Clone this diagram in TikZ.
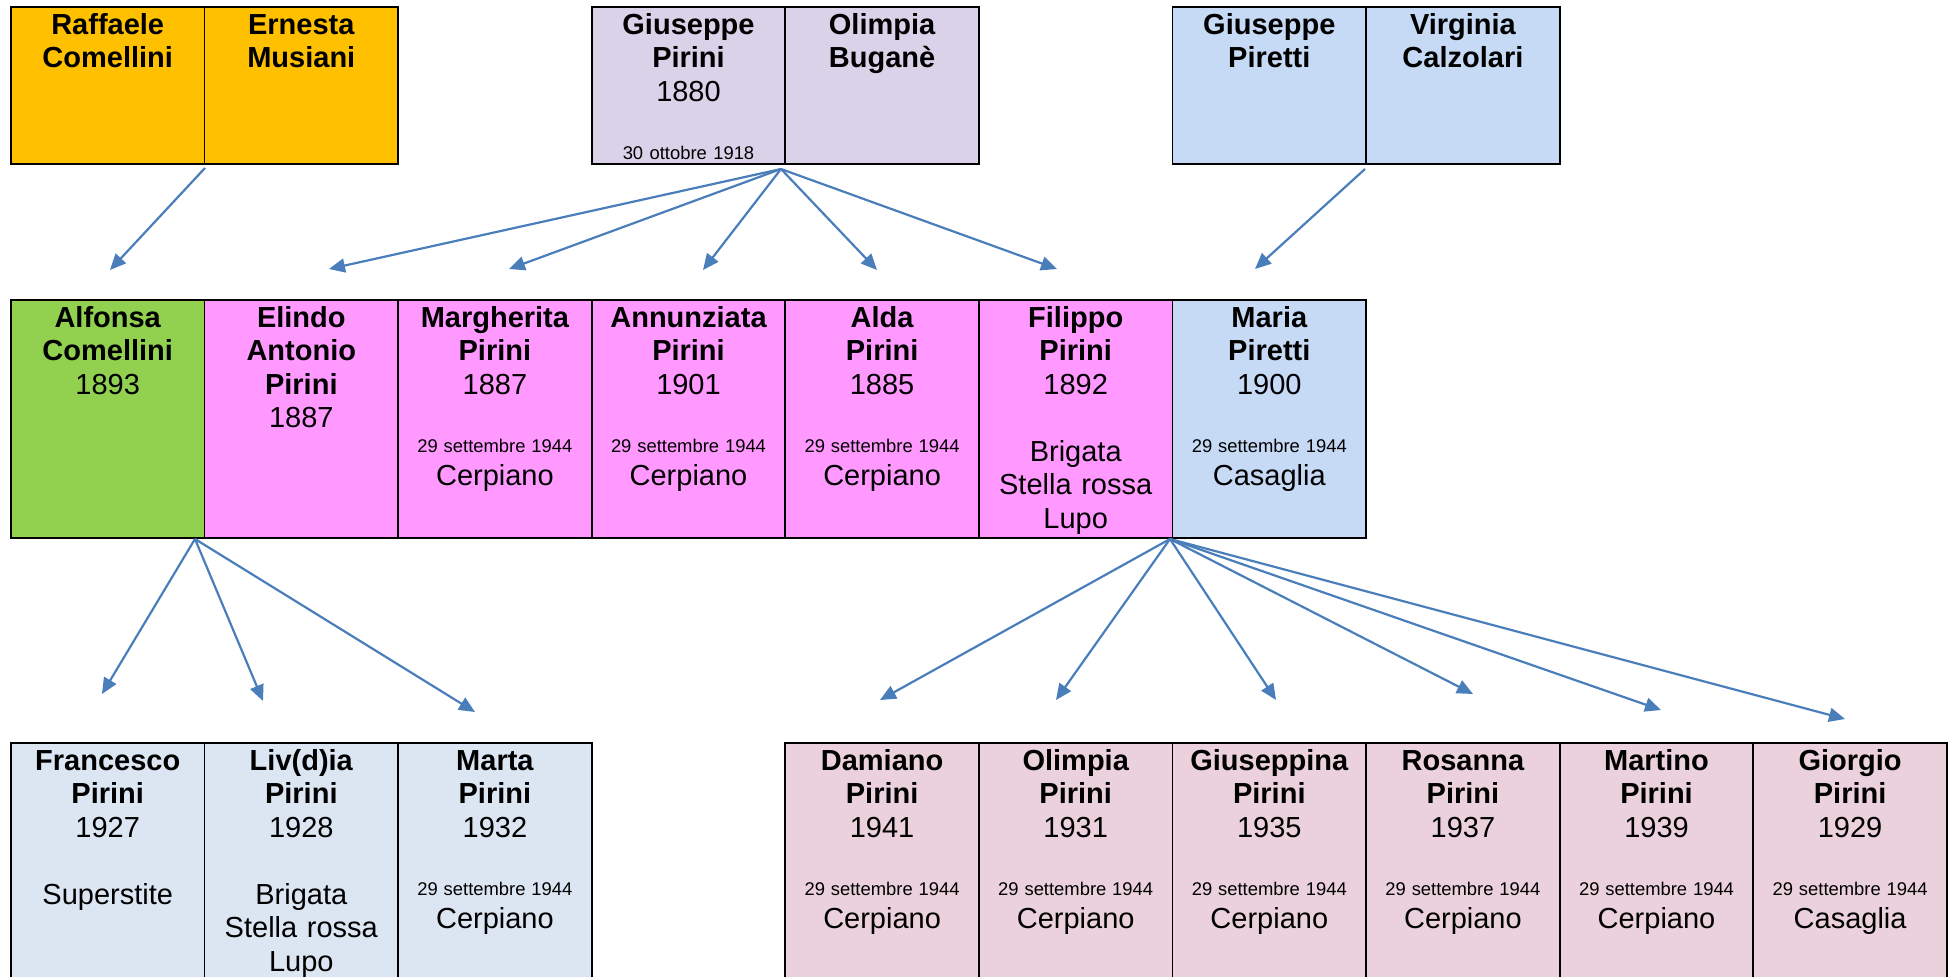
\documentclass[tikz,border=0pt]{standalone}
\usepackage{fontspec}
\setmainfont{Liberation Sans}
\usetikzlibrary{arrows.meta}
\definecolor{corange}{HTML}{FFC000}
\definecolor{clav}{HTML}{D9D2E9}
\definecolor{cblue}{HTML}{C6D9F5}
\definecolor{cgreen}{HTML}{92D050}
\definecolor{cpink}{HTML}{FF99FF}
\definecolor{cgrey}{HTML}{DCE6F2}
\definecolor{crose}{HTML}{EAD1DC}
\definecolor{arrowblue}{HTML}{4A7EBB}
\newcommand{\sm}[1]{{\fontsize{9.2}{11}\selectfont\spaceskip=0pt\xspaceskip=0pt\relax #1}}
\newcommand{\famcell}[6]{%
  \node[cell, fill=#5, minimum height=#4] (#1) at (#2,#3) {};
  \node[txt] (#1t) at ([yshift=-14.1pt]#1.north) {#6};}
\begin{document}
\begin{tikzpicture}[x=0.5pt,y=-0.5pt,
  cell/.style={draw=black, line width=0.9pt, minimum width=96.8pt, inner sep=0pt, anchor=north west},
  txt/.style={anchor=base, text width=95pt, align=center, inner sep=0pt, font=\fontsize{14.5}{16.75}\selectfont},
  arr/.style={draw=arrowblue, line width=1.1pt, -{Triangle[length=8pt,width=7pt]}}]
\useasboundingbox (0,0) rectangle (1948,976);
\clip (0,0) rectangle (1948,976);
% top row
\famcell{raf}{10}{6}{78.5pt}{corange}{\textbf{Raffaele\\Comellini}}
\famcell{ern}{203.6}{6}{78.5pt}{corange}{\textbf{Ernesta\\Musiani}}
\famcell{gpi}{590.8}{6}{78.5pt}{clav}{\textbf{Giuseppe\\Pirini}\\1880\\[12.35pt]\sm{30 ottobre 1918}}
\famcell{olb}{784.4}{6}{78.5pt}{clav}{\textbf{Olimpia\\Buganè}}
\famcell{gpt}{1171.6}{6}{78.5pt}{cblue}{\textbf{Giuseppe\\Piretti}}
\famcell{vca}{1365.2}{6}{78.5pt}{cblue}{\textbf{Virginia\\Calzolari}}
% middle row
\famcell{alf}{10}{299}{119pt}{cgreen}{\textbf{Alfonsa\\Comellini}\\1893}
\famcell{eli}{203.6}{299}{119pt}{cpink}{\textbf{Elindo\\Antonio\\Pirini}\\1887}
\famcell{mar}{397.2}{299}{119pt}{cpink}{\textbf{Margherita\\Pirini}\\1887\\[12.35pt]\sm{29 settembre 1944}\\Cerpiano}
\famcell{ann}{590.8}{299}{119pt}{cpink}{\textbf{Annunziata\\Pirini}\\1901\\[12.35pt]\sm{29 settembre 1944}\\Cerpiano}
\famcell{ald}{784.4}{299}{119pt}{cpink}{\textbf{Alda\\Pirini}\\1885\\[12.35pt]\sm{29 settembre 1944}\\Cerpiano}
\famcell{fil}{978}{299}{119pt}{cpink}{\textbf{Filippo\\Pirini}\\1892\\[16.75pt]Brigata\\Stella rossa\\Lupo}
\famcell{mpt}{1171.6}{299}{119pt}{cblue}{\textbf{Maria\\Piretti}\\1900\\[12.35pt]\sm{29 settembre 1944}\\Casaglia}
% bottom left
\famcell{fra}{10}{742}{129pt}{cgrey}{\textbf{Francesco\\Pirini}\\1927\\[16.75pt]Superstite}
\famcell{liv}{203.6}{742}{129pt}{cgrey}{\textbf{Liv(d)ia\\Pirini}\\1928\\[16.75pt]Brigata\\Stella rossa\\Lupo}
\famcell{mta}{397.2}{742}{129pt}{cgrey}{\textbf{Marta\\Pirini}\\1932\\[12.35pt]\sm{29 settembre 1944}\\Cerpiano}
% bottom right
\famcell{dam}{784.4}{742}{129pt}{crose}{\textbf{Damiano\\Pirini}\\1941\\[12.35pt]\sm{29 settembre 1944}\\Cerpiano}
\famcell{oli}{978}{742}{129pt}{crose}{\textbf{Olimpia\\Pirini}\\1931\\[12.35pt]\sm{29 settembre 1944}\\Cerpiano}
\famcell{gsp}{1171.6}{742}{129pt}{crose}{\textbf{Giuseppina\\Pirini}\\1935\\[12.35pt]\sm{29 settembre 1944}\\Cerpiano}
\famcell{ros}{1365.2}{742}{129pt}{crose}{\textbf{Rosanna\\Pirini}\\1937\\[12.35pt]\sm{29 settembre 1944}\\Cerpiano}
\famcell{mtn}{1558.8}{742}{129pt}{crose}{\textbf{Martino\\Pirini}\\1939\\[12.35pt]\sm{29 settembre 1944}\\Cerpiano}
\famcell{gio}{1752.4}{742}{129pt}{crose}{\textbf{Giorgio\\Pirini}\\1929\\[12.35pt]\sm{29 settembre 1944}\\Casaglia}
% arrow sources and tips
\coordinate (s1) at (205,168);
\coordinate (s2) at (781,169);
\coordinate (s3) at (1365,169);
\coordinate (s4) at (195,539);
\coordinate (s5) at (1170,539);
\coordinate (e11) at (110,270);
\coordinate (e21) at (329,269);
\coordinate (e22) at (509,269);
\coordinate (e23) at (703,270);
\coordinate (e24) at (877,270);
\coordinate (e25) at (1057,269);
\coordinate (e31) at (1255,269);
\coordinate (e41) at (102,694);
\coordinate (e42) at (263,701);
\coordinate (e43) at (475,712);
\coordinate (e51) at (880,700);
\coordinate (e52) at (1056,700);
\coordinate (e53) at (1276,700);
\coordinate (e54) at (1473,694);
\coordinate (e55) at (1661,710);
\coordinate (e56) at (1845,719);
\draw[arr] (s1) -- (e11);
\foreach \t in {e21,e22,e23,e24,e25} \draw[arr] (s2) -- (\t);
\draw[arr] (s3) -- (e31);
\foreach \t in {e41,e42,e43} \draw[arr] (s4) -- (\t);
\foreach \t in {e51,e52,e53,e54,e55,e56} \draw[arr] (s5) -- (\t);
\end{tikzpicture}
\end{document}
